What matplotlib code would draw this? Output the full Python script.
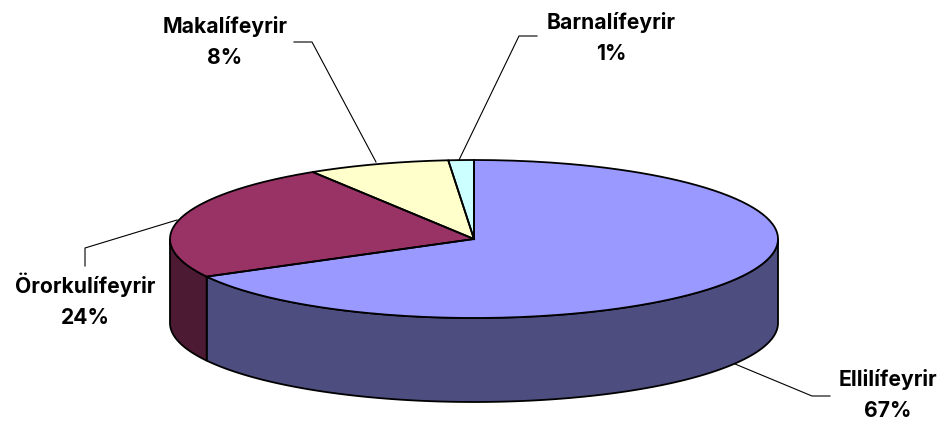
import numpy as np
import matplotlib.pyplot as plt
from matplotlib.patches import Wedge, Polygon
from matplotlib.transforms import Affine2D

# slices, going clockwise from the top
categories = ["Ellilífeyrir", "Örorkulífeyrir", "Makalífeyrir", "Barnalífeyrir"]
shares = [67.1, 24.0, 7.55, 1.35]
pct_labels = ["67%", "24%", "8%", "1%"]
colors = ["#9999FF", "#993366", "#FFFFCC", "#CCFFFF"]
side_colors = ["#4D4D80", "#4D1A33", "#808066", "#668080"]

# label centre and leader line per slice, in pixels
label_xy = [(888, 395), (85, 300), (225, 42), (611, 38)]
leader_xy = [
    [(735, 364), (812, 396), (830, 396)],
    [(177, 220), (85, 248), (85, 266)],
    [(376, 162), (312, 42), (294, 42)],
    [(459, 160), (519, 36), (537, 36)],
]

W, H = 946, 421
CX, CY = 474, 239
RX, RY = 304, 79
DEPTH = 84

fig = plt.figure(figsize=(W / 100, H / 100), dpi=100)
ax = fig.add_axes([0, 0, 1, 1])
ax.set_xlim(0, W)
ax.set_ylim(H, 0)
ax.axis("off")

# clockwise angle from the top -> math angle on the y-down unit circle
edges = np.concatenate([[0], np.cumsum(shares)]) / np.sum(shares) * 360
to_px = Affine2D().scale(RX, RY).translate(CX, CY) + ax.transData

# sides first, only the part of each slice that faces the viewer
for i in range(len(shares)):
    a1, a2 = edges[i], edges[i + 1]
    # front half is 90..270 clockwise from the top
    lo, hi = max(a1, 90), min(a2, 270)
    if hi <= lo:
        continue
    t = np.radians(np.linspace(lo, hi, 120))
    x = CX + RX * np.sin(t)
    y = CY - RY * np.cos(t)
    pts = np.r_[np.c_[x, y], np.c_[x[::-1], y[::-1] + DEPTH]]
    ax.add_patch(Polygon(pts, closed=True, fc=side_colors[i], ec="black", lw=1.3, zorder=2))

# top face
for i in range(len(shares)):
    w = Wedge((0, 0), 1, edges[i] - 90, edges[i + 1] - 90, fc=colors[i], ec="none",
              transform=to_px, zorder=3)
    ax.add_patch(w)
    t = np.radians(np.linspace(edges[i], edges[i + 1], 200))
    x = np.r_[CX, CX + RX * np.sin(t), CX]
    y = np.r_[CY, CY - RY * np.cos(t), CY]
    ax.plot(x, y, color="black", lw=1.3, zorder=4, solid_joinstyle="round")

for pts in leader_xy:
    xs, ys = zip(*pts)
    ax.plot(xs, ys, color="black", lw=0.8, zorder=1)

for name, pct, (lx, ly) in zip(categories, pct_labels, label_xy):
    ax.text(lx, ly, f"{name}\n{pct}", ha="center", va="center", family="Inter",
            fontweight="bold", fontsize=15.2, linespacing=1.68, color="black", zorder=5)

fig.savefig("out.png", dpi=100, facecolor="white")
